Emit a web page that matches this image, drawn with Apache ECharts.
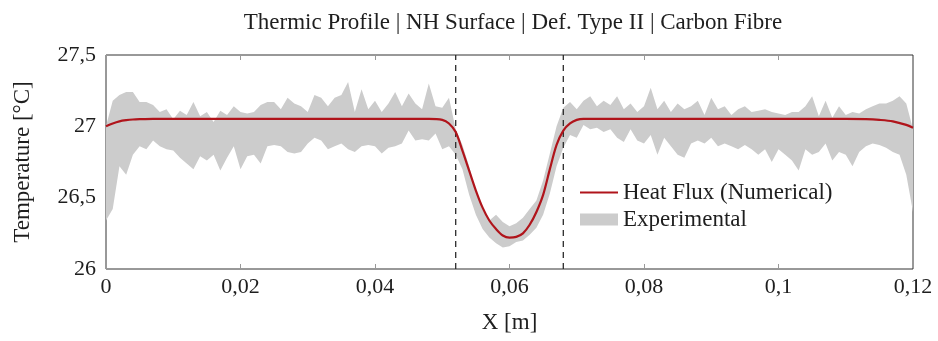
<!DOCTYPE html>
<html>
<head>
<meta charset="utf-8">
<script src="https://cdn.jsdelivr.net/npm/echarts@6/dist/echarts.min.js"></script>
<style>
  html, body { margin: 0; padding: 0; background: #fff; }
  #chart { width: 938px; height: 341px; }
</style>
</head>
<body>
<div id="chart"></div>
<script>
// experimental band, sampled every 0.001 m from 0 to 0.12
const expHigh = [
  27.00, 27.18, 27.22, 27.24, 27.24, 27.17, 27.17, 27.15, 27.10, 27.12,
  27.05, 27.11, 27.08, 27.17, 27.07, 27.10, 27.03, 27.11, 27.08, 27.14,
  27.10, 27.09, 27.10, 27.15, 27.17, 27.17, 27.12, 27.20, 27.16, 27.14,
  27.10, 27.22, 27.20, 27.14, 27.20, 27.22, 27.31, 27.10, 27.26, 27.12,
  27.18, 27.10, 27.16, 27.24, 27.14, 27.23, 27.16, 27.12, 27.30, 27.14,
  27.13, 27.20, 26.98, 26.87, 26.72, 26.54, 26.42, 26.34, 26.38, 26.33,
  26.30, 26.32, 26.36, 26.42, 26.48, 26.62, 26.81, 27.00, 27.13, 27.17,
  27.12, 27.18, 27.21, 27.14, 27.18, 27.15, 27.21, 27.12, 27.16, 27.10,
  27.14, 27.27, 27.12, 27.18, 27.10, 27.16, 27.12, 27.14, 27.18, 27.08,
  27.20, 27.12, 27.14, 27.08, 27.12, 27.14, 27.10, 27.11, 27.12, 27.10,
  27.09, 27.08, 27.10, 27.10, 27.14, 27.21, 27.07, 27.18, 27.06, 27.14,
  27.08, 27.10, 27.09, 27.12, 27.14, 27.16, 27.16, 27.18, 27.21, 27.16,
  26.98
];
const expLow = [
  26.34, 26.42, 26.72, 26.66, 26.80, 26.86, 26.84, 26.90, 26.86, 26.84,
  26.83, 26.78, 26.74, 26.70, 26.79, 26.76, 26.80, 26.69, 26.78, 26.86,
  26.70, 26.79, 26.80, 26.74, 26.86, 26.87, 26.86, 26.82, 26.81, 26.82,
  26.88, 26.92, 26.90, 26.84, 26.86, 26.88, 26.84, 26.82, 26.86, 26.87,
  26.86, 26.81, 26.85, 26.86, 26.88, 26.97, 26.90, 26.91, 26.90, 26.95,
  26.84, 26.86, 26.80, 26.70, 26.52, 26.38, 26.28, 26.22, 26.18, 26.15,
  26.16, 26.19, 26.20, 26.24, 26.29, 26.38, 26.53, 26.72, 26.85, 26.94,
  26.92, 27.01, 26.98, 26.99, 26.96, 26.98, 26.92, 26.89, 26.98, 26.90,
  26.88, 26.94, 26.80, 26.92, 26.86, 26.80, 26.78, 26.88, 26.90, 26.88,
  26.92, 26.86, 26.88, 26.86, 26.84, 26.87, 26.84, 26.80, 26.84, 26.75,
  26.84, 26.80, 26.76, 26.69, 26.84, 26.80, 26.82, 26.88, 26.76, 26.82,
  26.80, 26.72, 26.82, 26.86, 26.88, 26.87, 26.85, 26.82, 26.80, 26.66,
  26.40
];
const expX = expLow.map((_, i) => i / 1000);

// numerical heat flux solution
const numX = [
  0, 0.001, 0.002, 0.003, 0.004, 0.005, 0.007, 0.010, 0.048, 0.050,
  0.051, 0.052, 0.053, 0.054, 0.055, 0.056, 0.057, 0.058, 0.059, 0.060,
  0.061, 0.062, 0.063, 0.064, 0.065, 0.066, 0.067, 0.068, 0.069, 0.070,
  0.071, 0.073, 0.110, 0.113, 0.115, 0.117, 0.119, 0.120
];
const numY = [
  27.00, 27.02, 27.035, 27.043, 27.048, 27.05, 27.052, 27.052, 27.052, 27.045,
  27.02, 26.96, 26.83, 26.69, 26.55, 26.43, 26.34, 26.28, 26.235, 26.22,
  26.225, 26.25, 26.31, 26.40, 26.52, 26.70, 26.87, 26.97, 27.02, 27.045,
  27.052, 27.052, 27.052, 27.05, 27.045, 27.035, 27.01, 26.99
];

const defectEdges = [0.052, 0.068];
const yRange = [26, 27.5];

const font = 'Liberation Serif';
const ink = '#1e1e1e';
const comma = v => String(+v.toFixed(3)).replace('.', ',');

const chart = echarts.init(document.getElementById('chart'));

// band polygon: upper edge left->right, lower edge right->left
const bandPoly = expX.map((x, i) => [x, expHigh[i]])
  .concat(expX.map((x, i) => [x, expLow[i]]).reverse());

const edgeSeries = defectEdges.map(x => ({
  type: 'line',
  symbol: 'none',
  silent: true,
  data: [[x, yRange[0]], [x, yRange[1]]],
  lineStyle: { color: '#2a2a2a', type: [6, 5], width: 1.3 },
  z: 3
}));

chart.setOption({
  animation: false,
  title: {
    text: 'Thermic Profile | NH Surface | Def. Type II | Carbon Fibre',
    left: 508,
    textAlign: 'center',
    top: 6,
    textStyle: { fontFamily: font, fontSize: 23, fontWeight: 'normal', color: ink }
  },
  grid: {
    left: 106, right: 25, top: 55, bottom: 72,
    show: true, borderColor: '#333', borderWidth: 1, backgroundColor: 'transparent'
  },
  legend: {
    orient: 'vertical',
    left: 575,
    top: 176,
    itemWidth: 38,
    itemHeight: 12,
    itemGap: 4,
    textStyle: { fontFamily: font, fontSize: 23, color: ink },
    data: [
      { name: 'Heat Flux (Numerical)', icon: 'path://M0,5 L38,5 L38,7 L0,7 Z' },
      { name: 'Experimental', icon: 'rect' }
    ]
  },
  xAxis: [
    {
      type: 'value', min: 0, max: 0.12, interval: 0.02,
      name: 'X [m]', nameLocation: 'middle', nameGap: 42,
      nameTextStyle: { fontFamily: font, fontSize: 23, color: ink },
      axisLine: { show: false },
      axisTick: { show: true, inside: true, length: 5, lineStyle: { color: '#999' } },
      axisLabel: {
        fontFamily: font, fontSize: 22, color: ink, margin: 7,
        formatter: v => comma(v)
      },
      splitLine: { show: false }
    },
    {
      type: 'value', min: 0, max: 0.12, interval: 0.02, position: 'top',
      axisLine: { show: false },
      axisTick: { show: true, inside: true, length: 5, lineStyle: { color: '#999' } },
      axisLabel: { show: false },
      splitLine: { show: false }
    }
  ],
  yAxis: {
    type: 'value', min: yRange[0], max: yRange[1], interval: 0.5,
    name: 'Temperature [°C]', nameLocation: 'middle', nameGap: 72, nameRotate: 90,
    nameTextStyle: { fontFamily: font, fontSize: 23, color: ink },
    axisLine: { show: false },
    axisTick: { show: false },
    axisLabel: {
      fontFamily: font, fontSize: 22, color: ink, margin: 10,
      formatter: v => comma(v)
    },
    splitLine: { show: false }
  },
  series: [
    {
      name: 'Experimental',
      type: 'custom',
      color: '#cccccc',
      silent: true,
      data: [0],
      renderItem: (params, api) => ({
        type: 'polygon',
        shape: { points: bandPoly.map(p => api.coord(p)) },
        style: { fill: '#cccccc' }
      }),
      z: 1
    },
    ...edgeSeries,
    {
      name: 'Heat Flux (Numerical)',
      type: 'line',
      symbol: 'none',
      smooth: 0.3,
      color: '#b0141b',
      lineStyle: { color: '#b0141b', width: 2.2 },
      data: numX.map((x, i) => [x, numY[i]]),
      z: 4
    }
  ]
});
</script>
</body>
</html>
